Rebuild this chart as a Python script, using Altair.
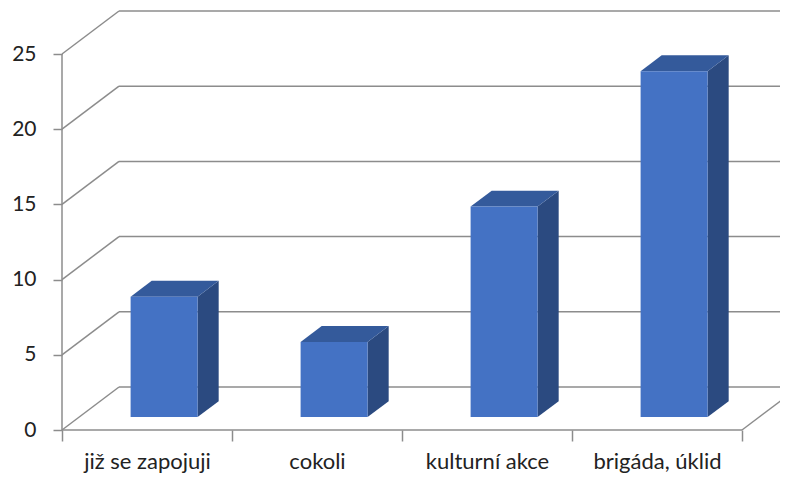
import json
import altair as alt
import pandas as pd

# ---- data ----
categories = ["již se zapojuji", "cokoli", "kulturní akce", "brigáda, úklid"]
values = [8, 5, 14, 23]
y_ticks = [0, 5, 10, 15, 20, 25]

# ---- layout / style constants ----
W, H = 718, 419
CAT_PX = 170.0
PX_PER_UNIT = 15.04
XMAX = W / CAT_PX
YMAX = H / PX_PER_UNIT
DX = 57 / CAT_PX          # full depth, x units
DY = 43 / PX_PER_UNIT     # full depth, y units
F0, F1 = 0.30, 0.67       # bar front/back depth fraction
HALF_W = 0.197
GRID = "#8c8c8c"
FONT = "Lato"

xs = alt.Scale(domain=[0, XMAX], nice=False, zero=False)
ys = alt.Scale(domain=[0, YMAX], nice=False, zero=False)

n = len(categories)
label_arr = "[" + ",".join(json.dumps(c, ensure_ascii=False) for c in categories + [""]) + "][datum.value]"

xaxis = alt.Axis(values=list(range(n + 1)), labelExpr=label_arr, labelOffset=CAT_PX / 2,
                 tickSize=11, tickColor=GRID, tickWidth=1.5, domain=False, grid=False,
                 labelPadding=27, labelBaseline="alphabetic", labelFont=FONT, labelFontSize=22,
                 labelColor="#222222", labelOverlap=False, labelFlush=False, labelBound=False,
                 title=None)
yaxis = alt.Axis(values=y_ticks, tickSize=9, tickColor=GRID, tickWidth=1.5, domain=False,
                 grid=False, labelPadding=17, labelFont=FONT, labelFontSize=21,
                 labelColor="#222222", title=None)

# ---- frame lines ----
rows = []
for v in y_ticks:
    rows.append(dict(x=DX, x2=XMAX, y=v + DY, y2=v + DY))      # back wall gridline
    rows.append(dict(x=0, x2=DX, y=v, y2=v + DY))               # side wall diagonal
rows.append(dict(x=0, x2=n, y=0, y2=0))                         # floor front edge
rows.append(dict(x=n, x2=n + DX, y=0, y2=DY))                   # floor right edge
rows.append(dict(x=0, x2=0, y=0, y2=max(y_ticks)))              # value axis line
frame = pd.DataFrame(rows)

lines = alt.Chart(frame).mark_rule(color=GRID, strokeWidth=1.5).encode(
    x=alt.X("x:Q", scale=xs, axis=xaxis), x2="x2:Q",
    y=alt.Y("y:Q", scale=ys, axis=yaxis), y2="y2:Q")

# ---- bars ----
front_rows, top_rows, side_rows = [], [], []
for i, (c, v) in enumerate(zip(categories, values)):
    xl0 = i + 0.5 - HALF_W + F0 * DX
    xr0 = i + 0.5 + HALF_W + F0 * DX
    sh = (F1 - F0) * DX
    b0, b1 = F0 * DY, F1 * DY
    yA, yB = v + b0, v + b1
    front_rows.append(dict(cat=c, x=xl0, x2=xr0, y=b0, y2=yA))
    for px, lo, hi in [(xl0, yA, yA), (xl0 + sh, yA, yB), (xr0, yA, yB), (xr0 + sh, yB, yB)]:
        top_rows.append(dict(cat=c, x=px, lo=lo, hi=hi))
    side_rows.append(dict(cat=c, x=xr0, lo=b0, hi=yA))
    side_rows.append(dict(cat=c, x=xr0 + sh, lo=b1, hi=yB))

front = alt.Chart(pd.DataFrame(front_rows)).mark_rect(color="#4472C4").encode(
    x=alt.X("x:Q", scale=xs, axis=xaxis), x2="x2:Q",
    y=alt.Y("y:Q", scale=ys, axis=yaxis), y2="y2:Q")

top = alt.Chart(pd.DataFrame(top_rows)).mark_area(color="#345A9B", interpolate="linear").encode(
    x=alt.X("x:Q", scale=xs, axis=xaxis),
    y=alt.Y("lo:Q", scale=ys, axis=yaxis), y2="hi:Q", detail="cat:N")

side = alt.Chart(pd.DataFrame(side_rows)).mark_area(color="#2B4A80", interpolate="linear").encode(
    x=alt.X("x:Q", scale=xs, axis=xaxis),
    y=alt.Y("lo:Q", scale=ys, axis=yaxis), y2="hi:Q", detail="cat:N")

chart = alt.layer(lines, side, top, front).properties(
    width=W, height=H,
    autosize=alt.AutoSizeParams(type="none"),
    padding={"left": 54, "top": 3, "right": 0, "bottom": 43},
).configure_view(stroke=None)

chart.save("out.html", embed_options={"renderer": "svg", "actions": False})
